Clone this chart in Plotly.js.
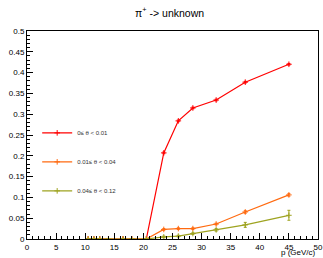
<!DOCTYPE html>
<html>
<head>
<meta charset="utf-8">
<script src="https://cdn.plot.ly/plotly-3.0.1.min.js"></script>
<style>html,body{margin:0;padding:0;background:#fff;}#c{width:323px;height:258px;}</style>
</head>
<body>
<div id="c"></div>
<script>
var p = [10.5, 11.5, 12.5, 14, 16.5, 18, 20.5, 23.5, 26, 28.5, 32.5, 37.5, 45];
var red = [0, 0, 0, 0, 0, 0, 0, 0.207, 0.284, 0.315, 0.334, 0.377, 0.420];
var redErr = [0, 0, 0, 0, 0, 0, 0, 0.002, 0.002, 0.002, 0.002, 0.002, 0.002];
var orange = [0, 0, 0, 0, 0, 0, 0, 0.023, 0.025, 0.025, 0.036, 0.065, 0.106];
var orangeErr = [0, 0, 0, 0, 0, 0, 0, 0.002, 0.002, 0.002, 0.002, 0.003, 0.003];
var olive = [0, 0, 0, 0, 0, 0, 0, 0.005, 0.007, 0.013, 0.022, 0.034, 0.057];
var oliveErr = [0, 0, 0, 0, 0, 0, 0, 0.002, 0.002, 0.002, 0.003, 0.006, 0.012];
var names = ["0\u2264 \u03b8 < 0.01", "0.01\u2264 \u03b8 < 0.04", "0.04\u2264 \u03b8 < 0.12"];
var colors = ["#ff0000", "#ff6a10", "#9ea320"];

function tr(y, e, i) {
  return {
    x: p, y: y, name: names[i], legendgroup: 'g' + i, type: 'scatter', mode: 'lines+markers',
    line: {color: colors[i], width: 1.2},
    marker: {symbol: 'cross-thin', size: 4, line: {color: colors[i], width: 1}},
    error_y: {type: 'data', array: e, visible: true, color: colors[i], thickness: 1, width: 1.5}
  };
}
var data = [tr(red, redErr, 0), tr(orange, orangeErr, 1), tr(olive, oliveErr, 2)];

var axFont = {family: 'Liberation Sans, Arial, sans-serif', size: 8, color: '#000'};
var layout = {
  width: 323, height: 258,
  margin: {l: 27, r: 5, t: 31, b: 19, pad: 0},
  paper_bgcolor: '#fff', plot_bgcolor: '#fff',
  title: {text: '\u03c0<sup>+</sup> -> unknown', x: 0.525, xanchor: 'center', y: 0.95, yanchor: 'middle',
          font: {family: 'Liberation Sans, Arial, sans-serif', size: 10.5, color: '#000'}},
  showlegend: true,
  legend: {x: 0.035, y: 0.58, xanchor: 'left', yanchor: 'top', bgcolor: 'rgba(0,0,0,0)',
           font: {family: 'Liberation Sans, Arial, sans-serif', size: 6, color: '#333'},
           tracegroupgap: 10, itemwidth: 30, traceorder: 'grouped'},
  xaxis: {range: [0, 50], dtick: 5, tick0: 0, ticks: 'inside', ticklen: 6, tickcolor: '#000',
          showline: true, linecolor: '#000', linewidth: 1, mirror: true, showgrid: false, zeroline: false,
          tickfont: axFont,
          minor: {dtick: 1, ticks: 'inside', ticklen: 3, tickcolor: '#000', showgrid: false}},
  yaxis: {range: [0, 0.5], dtick: 0.05, tick0: 0, ticks: 'inside', ticklen: 6, tickcolor: '#000',
          showline: true, linecolor: '#000', linewidth: 1, mirror: true, showgrid: false, zeroline: false,
          tickfont: axFont, tickformat: '~g',
          minor: {dtick: 0.01, ticks: 'inside', ticklen: 3, tickcolor: '#000', showgrid: false}},
  annotations: [{text: 'p (GeV/c)', xref: 'paper', yref: 'paper', x: 1, y: 0, xanchor: 'right', yanchor: 'top',
                 yshift: -7, showarrow: false, font: axFont}]
};
Plotly.newPlot('c', data, layout, {displayModeBar: false, staticPlot: true});
</script>
</body>
</html>
